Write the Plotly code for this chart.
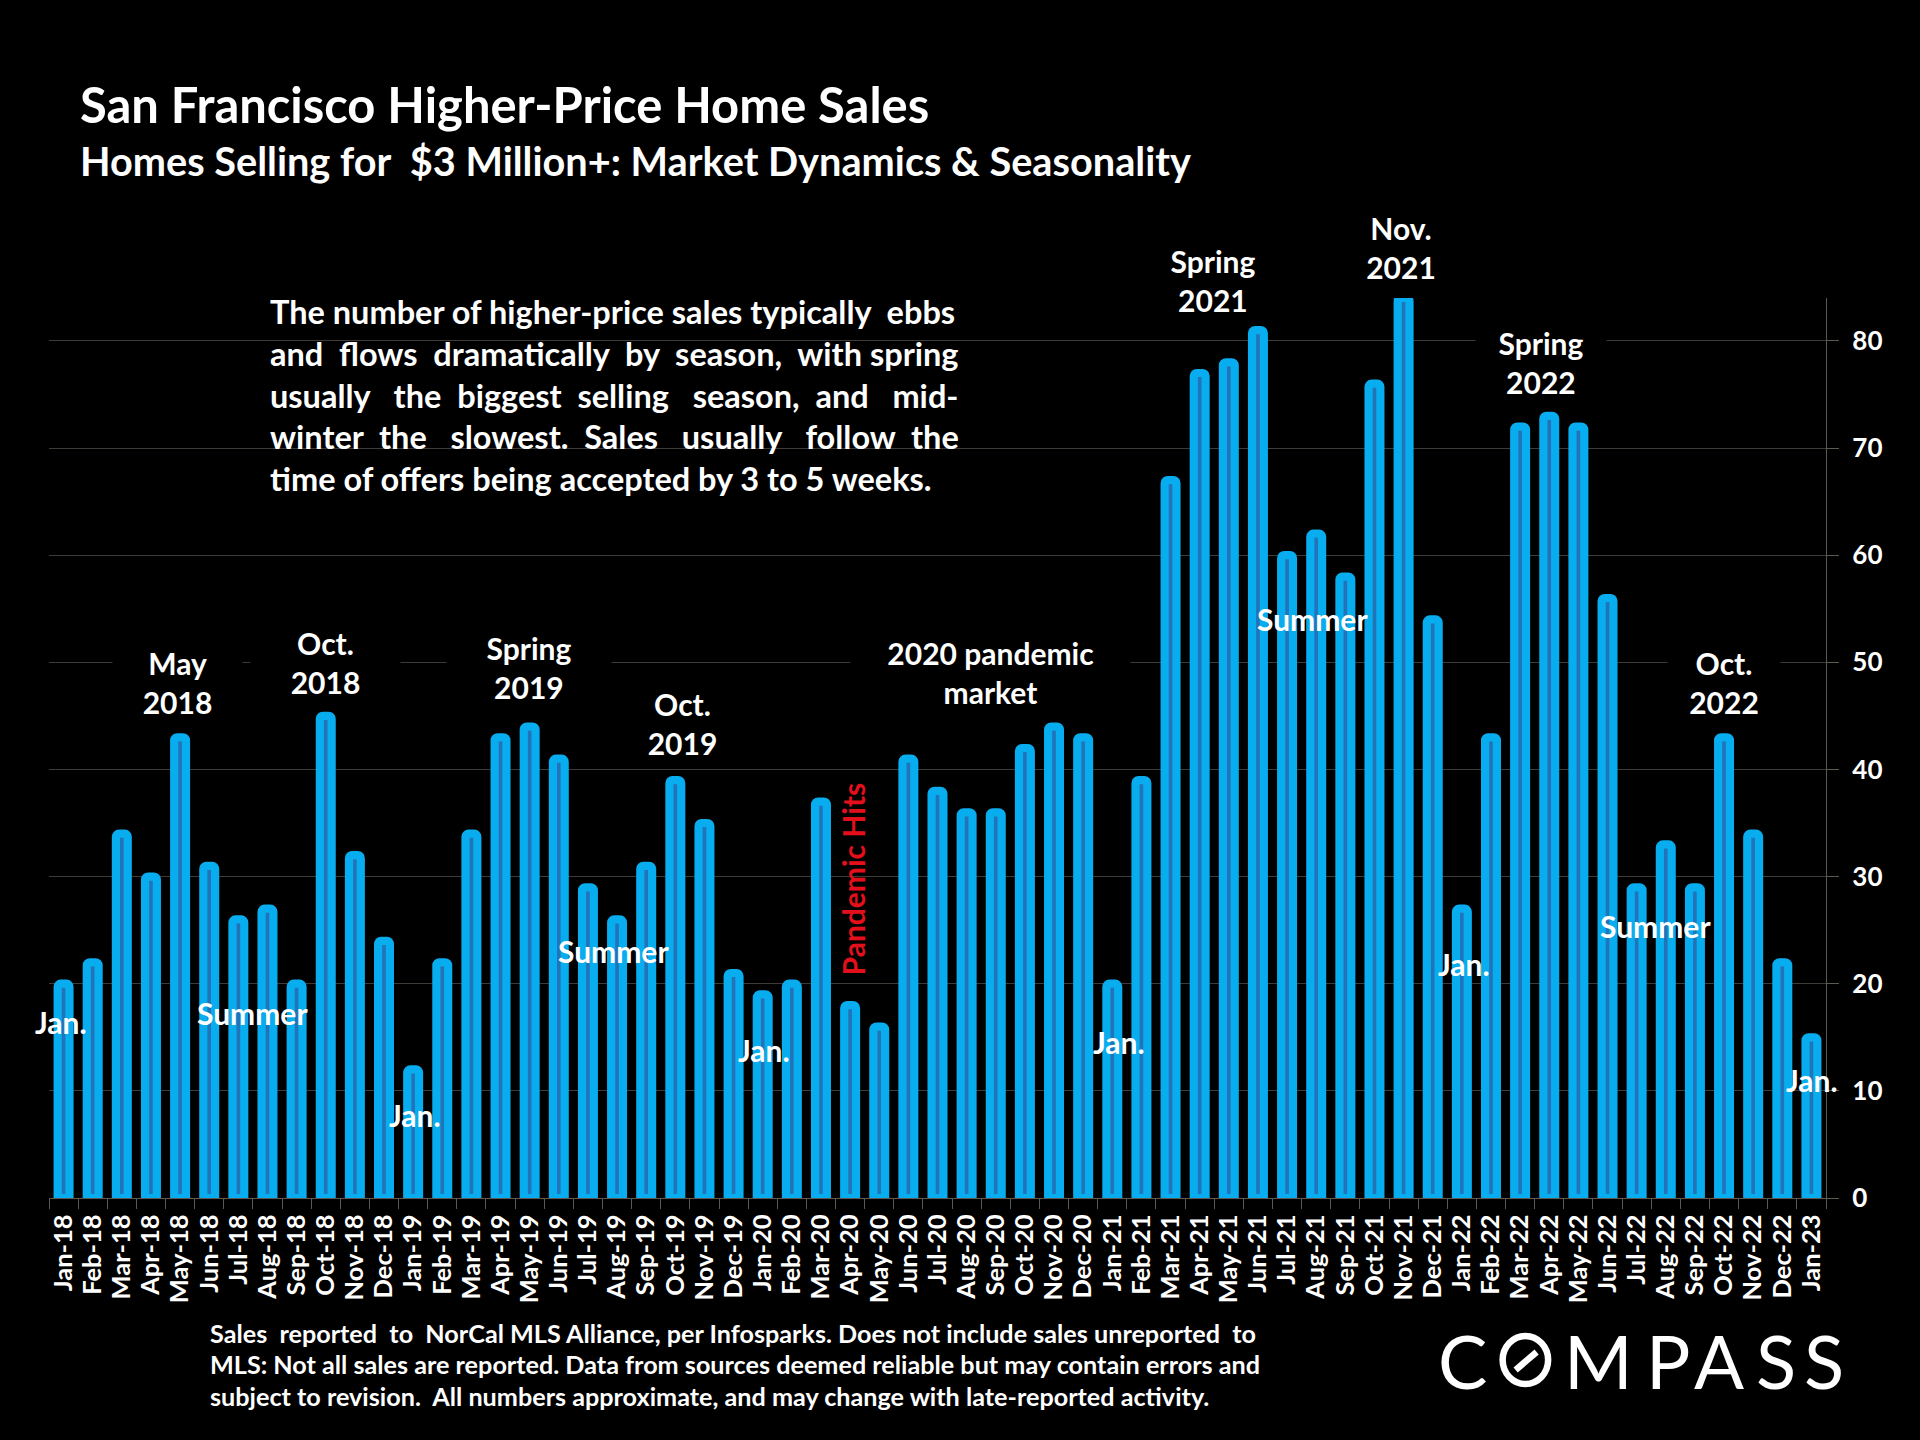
import plotly.graph_objects as go

# monthly sales, Jan-18 to Jan-23
months = ['Jan-18','Feb-18','Mar-18','Apr-18','May-18','Jun-18','Jul-18','Aug-18','Sep-18','Oct-18','Nov-18','Dec-18',
          'Jan-19','Feb-19','Mar-19','Apr-19','May-19','Jun-19','Jul-19','Aug-19','Sep-19','Oct-19','Nov-19','Dec-19',
          'Jan-20','Feb-20','Mar-20','Apr-20','May-20','Jun-20','Jul-20','Aug-20','Sep-20','Oct-20','Nov-20','Dec-20',
          'Jan-21','Feb-21','Mar-21','Apr-21','May-21','Jun-21','Jul-21','Aug-21','Sep-21','Oct-21','Nov-21','Dec-21',
          'Jan-22','Feb-22','Mar-22','Apr-22','May-22','Jun-22','Jul-22','Aug-22','Sep-22','Oct-22','Nov-22','Dec-22',
          'Jan-23']
sales = [20,22,34,30,43,31,26,27,20,45,32,24,
         12,22,34,43,44,41,29,26,31,39,35,21,
         19,20,37,18,16,41,38,36,36,42,44,43,
         20,39,67,77,78,81,60,62,58,76,84,54,
         27,43,72,73,72,56,29,33,29,43,34,22,
         15]
y_ticks = [0,10,20,30,40,50,60,70,80]

title = 'San Francisco Higher-Price Home Sales'
subtitle = 'Homes Selling for  $3 Million+: Market Dynamics &amp; Seasonality'
# extra spaces stand in for the justified text of the original
paragraph = ['The number of higher-price sales typically  ebbs',
             'and  flows  dramatically  by  season,  with spring',
             'usually   the  biggest  selling   season,  and   mid-',
             'winter  the   slowest.  Sales   usually   follow  the',
             'time of offers being accepted by 3 to 5 weeks.']
footnote = ['Sales  reported  to  NorCal MLS Alliance, per Infosparks. Does not include sales unreported  to',
            'MLS: Not all sales are reported. Data from sources deemed reliable but may contain errors and',
            'subject to revision.  All numbers approximate, and may change with late-reported activity.']

# plot area in page pixels
L, R, T, B = 48.7, 1826.5, 298, 1198

def px(x):
    return (x - L) / (R - L)

def py(y):
    return (B - y) / (B - T)

def text(x, y, s, size, anchor='center', color='white', **kw):
    return dict(x=px(x), y=py(y), xref='paper', yref='paper', text=s, showarrow=False,
                xanchor=anchor, yanchor='middle', align=anchor,
                font=dict(family='Lato', size=size, color=color, weight=700), **kw)

notes = [text(77.5, 104, title, 48.9, 'left'), text(77.5, 161, subtitle, 39.7, 'left')]

for i, line in enumerate(paragraph):
    notes.append(text(268, [311,353,395,436,478][i], line, 32.5, 'left'))
for i, line in enumerate(footnote):
    notes.append(text(208, [1333,1364,1396][i], line, 25.2, 'left'))

# labels with a black box that cuts the gridlines
boxed = [(177.5,682,'May<br>2018',127),(325.5,662,'Oct.<br>2018',147),(529,667,'Spring<br>2019',162),
         (682.5,723,'Oct.<br>2019',127),(990.5,672,'2020 pandemic<br>market',277),
         (1213.5,280,'Spring<br>2021',100),(1401,248,'Nov.<br>2021',100),
         (1541.6,362,'Spring<br>2022',128),(1724,682,'Oct.<br>2022',110)]
for x, y, s, w in boxed:
    notes.append(text(x, y, s, 30, bgcolor='black', width=w))

for x, y, s in [(61,1022,'Jan.'),(252,1013,'Summer'),(415,1115,'Jan.'),(613.5,951,'Summer'),(764,1050,'Jan.'),
                (1119,1042,'Jan.'),(1312.7,619,'Summer'),(1464.5,964,'Jan.'),(1655.5,926,'Summer'),(1812,1080,'Jan.')]:
    notes.append(text(x, y, s, 30))

notes.append(text(853.5, 879, 'Pandemic Hits', 30, color='#e3101c', textangle=-90))

# logo letters, the O is drawn as a ring below
for x, s in [(1463,'C'),(1599,'M'),(1668,'P'),(1719.5,'A'),(1776.5,'S'),(1824.5,'S')]:
    n = text(x, 1360, s, 74)
    n['font']['weight'] = 400
    notes.append(n)

shapes = [
    dict(type='rect', xref='paper', yref='paper', x0=px(251), x1=px(976), y0=py(292), y1=py(500),
         fillcolor='black', line_width=0, layer='below'),
    dict(type='circle', xref='paper', yref='paper', x0=px(1503), x1=px(1548.5), y0=py(1336), y1=py(1384),
         line=dict(color='white', width=6.5)),
    dict(type='line', xref='paper', yref='paper', x0=px(1516), x1=px(1537), y0=py(1370), y1=py(1352),
         line=dict(color='white', width=6.5)),
]

fig = go.Figure(go.Bar(x=months, y=sales, width=0.405,
                       marker=dict(color='#2373b9', line=dict(color='#07adee', width=8.2), cornerradius=3)))
fig.update_layout(
    width=1920, height=1440, paper_bgcolor='black', plot_bgcolor='black', showlegend=False,
    margin=dict(l=L, r=1920 - R, t=T, b=1440 - B),
    annotations=notes, shapes=shapes,
)
fig.update_xaxes(type='category', dtick=1, tickson='boundaries', ticks='outside', ticklen=10, tickwidth=1.3,
                 tickcolor='#5c5852', linecolor='#5c5852', linewidth=1.3, showgrid=False, tickangle=-90,
                 ticklabelstandoff=5,
                 tickfont=dict(family='Lato', size=25.5, color='white', weight=700))
fig.update_yaxes(range=[0, 84], side='right', tickvals=y_ticks, ticks='outside', ticklen=12, tickwidth=1.3,
                 tickcolor='#5c5852', linecolor='#5c5852', linewidth=1.3, showline=True, mirror=False,
                 gridcolor='#3f3c38', gridwidth=1.2, zeroline=False, ticklabelstandoff=8,
                 tickfont=dict(family='Lato', size=26, color='white', weight=700))

fig.write_html('out.html', config=dict(displayModeBar=False), post_script="document.body.style.margin='0';")
